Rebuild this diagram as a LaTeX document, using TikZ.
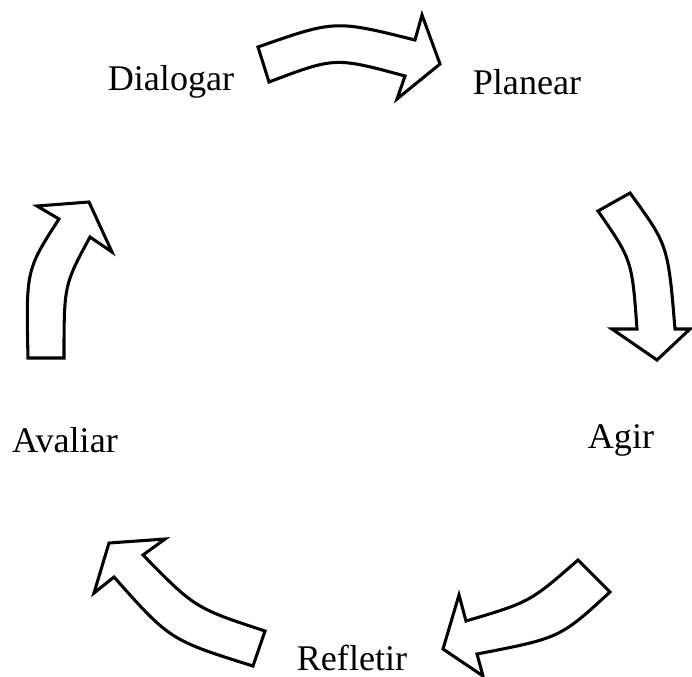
\documentclass[tikz,border=0pt]{standalone}
\usepackage{fontspec}
\setmainfont{Liberation Serif}
\usepackage{tikz}

\begin{document}
\begin{tikzpicture}[x=0.36pt, y=-0.36pt]
        \tikzset{step label/.style = {font=\fontsize{13}{15}\selectfont},
                 block/.style = {draw, line width=1.1pt, fill=white}}
        \useasboundingbox (0,0) rectangle (692,677);
        % labels
        \node[step label] (dialogar) at (171,82) {Dialogar};
        \node[step label] (planear) at (527,82) {Planear};
        \node[step label] (agir) at (621,440) {Agir};
        \node[step label] (refletir) at (352,658) {Refletir};
        \node[step label] (avaliar) at (65,440) {Avaliar};
        % block arrows
        \draw[block] (258,47) .. controls (335,20) .. (415,40) -- (422,15) -- (440,64)
              -- (397,99) -- (405,76) .. controls (335,57) .. (269,82) -- cycle;
        \draw[block] (630,193) .. controls (668,245) .. (675,329) -- (690,329) -- (657,360)
              -- (612,329) -- (637,329) .. controls (632,260) .. (598,211) -- cycle;
        \draw[block] (610,592) .. controls (560,638) .. (477,654) -- (483,676) -- (443,649)
              -- (459,595) -- (466,621) .. controls (530,602) .. (578,560) -- cycle;
        \draw[block] (253,666) .. controls (170,640) .. (114,577) -- (94,593) -- (109,543)
              -- (165,539) -- (143,555) .. controls (195,608) .. (265,631) -- cycle;
        \draw[block] (28,358) .. controls (26,270) .. (59,219) -- (37,206) -- (89,202)
              -- (112,252) -- (90,237) .. controls (64,285) .. (64,358) -- cycle;
\end{tikzpicture}
\end{document}
